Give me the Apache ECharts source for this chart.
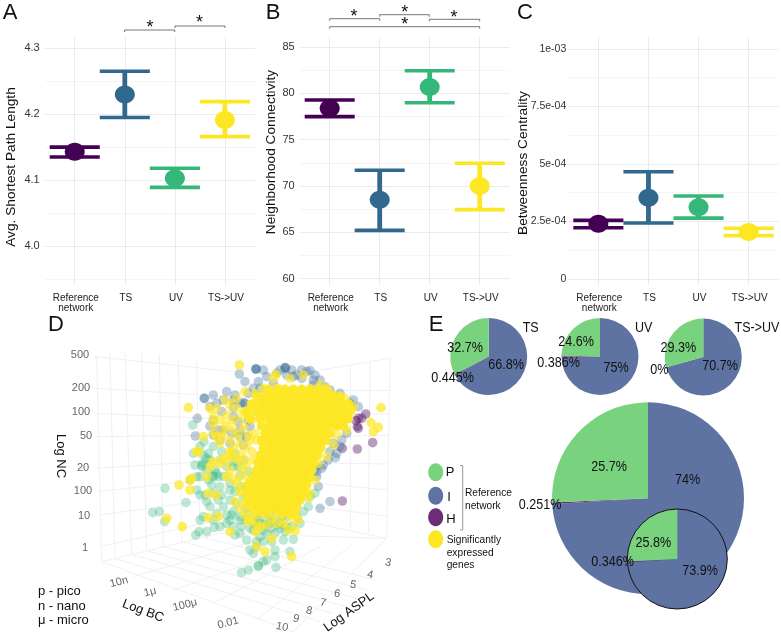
<!DOCTYPE html>
<html>
<head>
<meta charset="utf-8">
<style>html,body{margin:0;padding:0;background:#fff}#chart{width:781px;height:633px}</style>
<script src="https://cdn.jsdelivr.net/npm/echarts@6/dist/echarts.min.js"></script>
</head>
<body>
<div id="chart"></div>
<script>
// Network topology comparison across conditions
const categories = ['Reference\nnetwork', 'TS', 'UV', 'TS->UV'];
const conditionColors = ['#440154', '#31688E', '#35B779', '#FDE725'];

const asplMean = [4.143, 4.230, 4.103, 4.191];
const asplLow  = [4.135, 4.195, 4.089, 4.166];
const asplHigh = [4.150, 4.265, 4.118, 4.219];
const asplTicks = [4.0, 4.1, 4.2, 4.3];
const asplMinor = [3.95, 4.05, 4.15, 4.25];

const ncMean = [78.4, 68.5, 80.7, 70.0];
const ncLow  = [77.5, 65.2, 79.0, 67.45];
const ncHigh = [79.3, 71.7, 82.45, 72.45];
const ncTicks = [60, 65, 70, 75, 80, 85];
const ncMinor = [62.5, 67.5, 72.5, 77.5, 82.5];

const bcMean = [2.40e-4, 3.53e-4, 3.11e-4, 2.04e-4];
const bcLow  = [2.22e-4, 2.43e-4, 2.64e-4, 1.88e-4];
const bcHigh = [2.54e-4, 4.66e-4, 3.60e-4, 2.20e-4];
const bcTicks = [0, 2.5e-4, 5e-4, 7.5e-4, 1e-3];
const bcTickLabels = ['0', '2.5e-04', '5e-04', '7.5e-04', '1e-03'];
const bcMinor = [1.25e-4, 3.75e-4, 6.25e-4, 8.75e-4];

// Panel D: node positions on the projected plane of the 3D view
const wallLines = [
  [[285,110],[700,155]],[[285,205],[720,232]],[[285,280],[730,300]],[[285,350],[730,345]],
  [[288,445],[720,418]],[[295,515],[700,470]],[[300,585],[700,530]],[[300,680],[700,590]],
  [[960,150],[1170,115]],[[1000,210],[1170,210]],[[1040,280],[1170,282]],[[1000,350],[1170,345]],
  [[1000,430],[1165,432]],[[950,490],[1165,510]],[[950,560],[1165,590]],[[900,600],[1160,655]],
  [[290,108],[305,725]],[[330,100],[345,715]],[[375,98],[395,703]],[[425,100],[440,692]],
  [[478,104],[490,680]],[[535,115],[545,665]],[[590,125],[600,650]],[[1170,115],[1160,655]],
  [[1110,125],[1105,640]],[[1050,135],[1050,620]],
  [[305,725],[880,935]],[[345,715],[960,905]],[[395,703],[1000,880]],[[440,692],[1040,860]],
  [[490,680],[1070,835]],[[545,665],[1100,810]],[[600,650],[1130,780]],[[650,640],[1160,655]],
  [[305,725],[660,640]],[[400,770],[760,665]],[[520,810],[860,690]],[[640,850],[960,680]],
  [[770,900],[1060,670]],[[880,935],[1160,655]]
];
const purpleNodes = [[1072,320],[1075,295],[1097,282],[1118,368],[1027,385],[1072,387],[1027,543],[1085,295],[1068,302],[1075,325]];
const blueNodes = [[718,162],[735,185],[768,147],[768,147],[768,147],[790,150],[855,143],[857,143],[875,150],[905,150],[930,152],[945,165],[960,180],
  [775,185],[800,170],[830,160],[860,165],[613,235],[613,235],[640,225],[722,250],[735,250],[730,248],[592,295],[630,318],[655,330],[586,348],
  [650,250],[670,240],[700,240],[745,220],[780,205],[820,190],[880,170],[990,210],[1020,220],[1050,250],[1006,413],[970,435],[950,470],
  [955,500],[990,545],[960,565],[1020,380],[990,395],[1040,340],[720,350],[690,370],[660,360],[640,300],[700,290],[1075,260],[1060,240],
  [940,180],[905,175],[855,145],[920,155],[965,445],[945,445],[950,455],[700,262],[720,330],[670,330],[745,300],[740,350],[1000,370],[985,420],
  [680,215],[705,225],[760,205],[630,260],[665,275],[715,305],[695,340],[730,375],[750,320],[640,345],[1010,400],[1025,360],[940,195],[975,200],
  [840,150],[890,165]];
const greenNodes = [[578,315],[495,505],[458,578],[478,575],[494,605],[558,548],[587,645],[597,635],[620,635],[643,622],[600,600],[590,510],
  [610,430],[607,440],[585,435],[600,470],[640,470],[650,460],[625,400],[640,380],[600,380],[580,400],[612,365],[590,470],[570,480],[640,520],
  [615,525],[660,500],[690,490],[720,500],[700,440],[730,420],[680,440],[660,420],[690,600],[700,620],[720,640],[740,660],[770,680],[750,690],
  [780,650],[800,640],[850,660],[880,658],[825,690],[870,695],[800,720],[825,710],[775,738],[775,738],[745,750],[724,758],[828,742],[790,725],
  [760,700],[820,600],[840,610],[860,620],[800,600],[780,610],[790,570],[830,570],[860,590],[890,590],[910,575],[930,530],[945,520],[900,540],
  [780,540],[740,600],[760,630],[705,645],[680,610],[650,580],[630,560],[610,590],[740,500],[760,470],[620,450],[655,540],[670,560],[690,540],
  [710,550],[800,510],[830,520],[850,540],[880,510],[910,500],[660,620],[640,600],[605,435],[640,468],[655,470],[620,415],[700,425],[715,440],
  [695,585],[720,590],[770,590],[810,610],[835,615],[815,625],[845,590],[705,515],[730,530],[760,545],[775,600],[750,625],[790,630],[635,495],
  [600,525],[720,600],[810,585],[840,625],[790,665],[770,665],[815,665],[610,405],[630,420],[645,450],[625,480],[670,470],[690,510],[720,465],
  [745,455],[665,395],[705,400],[735,565],[700,575],[680,585],[725,620],[745,580],[765,610],[795,615],[825,640],[855,635],[875,620],[900,610],
  [925,560],[665,525],[620,545]];
const yellowSparse = [[718,135],[828,163],[565,263],[1143,263],[1113,308],[1135,322],[1120,335],[537,495],[570,510],[500,595],[547,620],[625,593],
  [655,590],[875,710],[815,655],[886,632],[795,695],[680,470],[745,605],[767,635],[690,635],[770,680],[630,265],[640,310],[680,315],[610,350],
  [690,395],[650,350],[665,350],[575,475],[590,395],[620,470],[570,480],[595,395],[640,425],[660,430],[630,440],[625,520],[650,525],[705,545],
  [735,545],[710,490],[740,520],[775,565],[755,600],[800,615],[830,610],[895,600],[865,630],[795,580],[690,405],[670,415],[715,420],[735,500],
  [760,580],[735,585],[780,620],[850,610],[815,595],[720,515]];
const yellowBelt = [[650,265],[690,255],[710,265],[735,215],[765,220],[790,205],[835,205],[640,290],[660,300],[700,300],[725,290],[700,330],[730,320],
  [745,345],[720,370],[690,360],[660,370],[740,380],[700,410],[725,400],[760,420],[740,440],[690,450],[720,470],[745,470],[640,340],[750,270],[755,300],
  [680,285],[910,165],[870,175],[820,175],[960,195],[1000,225],[1035,235],[1060,260],[1040,330],[1010,345],[1000,375],[980,410],[955,430],[945,480],
  [930,520],[925,535],[675,240],[710,235],[735,275],[670,330],[715,345],[750,360],[700,385],[735,420],[680,425],[755,395],[770,360],[765,340],
  [745,490],[725,445],[695,475],[760,510],[880,600],[820,580],[775,585],[740,560],[720,565],[770,615]];
// Overplotted core, listed row by row as [row, positions along the row]
const coreRows = [
  [208, [805,830,855,880,905,930,955,980]],
  [230, [770,795,820,845,870,895,920,945,970,995,1020]],
  [252, [755,780,805,830,855,880,905,930,955,980,1005,1030,1045]],
  [274, [740,768,793,818,843,868,893,918,943,968,993,1018,1043,1052]],
  [296, [750,780,805,830,855,880,905,930,955,980,1005,1030,1045]],
  [318, [785,810,835,860,885,910,935,960,985,1010,1030]],
  [340, [795,820,845,870,895,920,945,970,990]],
  [362, [785,810,835,860,885,910,935,960,978]],
  [384, [790,815,840,865,890,915,940,962]],
  [406, [780,805,830,855,880,905,930,952]],
  [428, [775,800,825,850,875,900,925,940]],
  [450, [770,795,820,845,870,895,920,935]],
  [472, [760,785,810,835,860,885,910,930]],
  [494, [750,775,800,825,850,875,900,920]],
  [516, [745,770,795,820,845,870,895,915]],
  [538, [745,770,800,825,850,875,900]],
  [560, [755,785,815,845,870,890]],
  [582, [845,870,885]]
];
// Heaviest overplotting, drawn as larger discs
const coreCentres = [[810,250],[870,250],[930,250],[990,250],[840,295],[900,295],[960,295],[1010,290],[830,340],[890,340],[950,335],
  [830,385],[890,385],[925,385],[815,430],[870,430],[905,430],[805,475],[860,475],[890,475],[790,520],[840,520],[880,520],[790,550],[850,550]];

// Panel E: protein class shares per gene set
const classNames = ['I', 'H', 'P'];
const classColors = ['#5F73A2', '#6B2C78', '#78D27E'];
const tsShares = [66.8, 0.445, 32.7];
const uvShares = [75, 0.386, 24.6];
const tsuvShares = [70.7, 0, 29.3];
const refShares = [74, 0.251, 25.7];
const sigShares = [73.9, 0.346, 25.8];

const font = 'Liberation Sans, Arial, sans-serif';
const gridTop = 37, gridHeight = 248;
const panels = [
  {left: 44.7, width: 210.3, min: 3.941, max: 4.317, ticks: asplTicks, minor: asplMinor, mean: asplMean, low: asplLow, high: asplHigh,
   labelSize: 11, labelMargin: 5, fmt: v => v.toFixed(1)},
  {left: 299.7, width: 210, min: 59.3, max: 86.1, ticks: ncTicks, minor: ncMinor, mean: ncMean, low: ncLow, high: ncHigh,
   labelSize: 11, labelMargin: 5, fmt: v => String(v)},
  {left: 568.3, width: 210.4, min: -0.27e-4, max: 1.052e-3, ticks: bcTicks, minor: bcMinor, mean: bcMean, low: bcLow, high: bcHigh,
   labelSize: 10.5, labelMargin: 2, fmt: v => bcTickLabels[bcTicks.findIndex(t => Math.abs(t - v) < 1e-9)]}
];

const grids = [], xAxes = [], yAxes = [], series = [];
panels.forEach((p, i) => {
  grids.push({left: p.left, top: gridTop, width: p.width, height: gridHeight});
  xAxes.push({
    gridIndex: i, type: 'value', min: 0.4, max: 4.6,
    axisLine: {show: false},
    axisTick: {show: false, customValues: [1, 2, 3, 4]},
    axisLabel: {customValues: [1, 2, 3, 4], margin: 7.5, fontFamily: font, fontSize: 10, lineHeight: 10.5, color: '#222',
      padding: [0, 0, 0, 2], formatter: v => categories[v - 1]},
    splitLine: {show: true, lineStyle: {color: '#ebebeb', width: 1}}
  });
  yAxes.push({
    gridIndex: i, type: 'value', min: p.min, max: p.max,
    axisLine: {show: false},
    axisTick: {show: false, customValues: p.ticks},
    axisLabel: {customValues: p.ticks, margin: p.labelMargin, fontFamily: font, fontSize: p.labelSize, color: '#333', formatter: p.fmt},
    splitLine: {show: true, lineStyle: {color: '#ebebeb', width: 1}}
  });
  yAxes.push({
    gridIndex: i, type: 'value', min: p.min, max: p.max,
    axisLine: {show: false},
    axisTick: {show: false, customValues: p.minor},
    axisLabel: {show: false},
    splitLine: {show: true, lineStyle: {color: '#f5f5f5', width: 1}}
  });
  series.push({
    type: 'custom', xAxisIndex: i, yAxisIndex: i * 2, clip: false, silent: true,
    data: p.mean.map((m, k) => [k + 1, m, p.low[k], p.high[k], k]),
    encode: {x: 0, y: [1, 2, 3]},
    renderItem(params, api) {
      const x = api.value(0);
      const c = conditionColors[api.value(4)];
      const mid = api.coord([x, api.value(1)]);
      const lo = api.coord([x, api.value(2)]);
      const hi = api.coord([x, api.value(3)]);
      const half = api.size([0.5, 0])[0];
      const stroke = {stroke: c, fill: null};
      return {type: 'group', children: [
        {type: 'line', shape: {x1: lo[0], y1: lo[1], x2: hi[0], y2: hi[1]}, style: {...stroke, lineWidth: 4.8}},
        {type: 'line', shape: {x1: lo[0] - half, y1: lo[1], x2: lo[0] + half, y2: lo[1]}, style: {...stroke, lineWidth: 3.6}},
        {type: 'line', shape: {x1: hi[0] - half, y1: hi[1], x2: hi[0] + half, y2: hi[1]}, style: {...stroke, lineWidth: 3.6}},
        {type: 'ellipse', shape: {cx: mid[0], cy: mid[1], rx: 10, ry: 9}, style: {fill: c}}
      ]};
    }
  });
});

// Panel D uses hidden axes spanning the projected plane
grids.push({left: 0, top: 320, width: 400, height: 313});
xAxes.push({gridIndex: 3, type: 'value', min: 0, max: 1200, show: false});
yAxes.push({gridIndex: 3, type: 'value', min: 0, max: 939, inverse: true, show: false});
const dAxisIdx = yAxes.length - 1;
series.push({
  type: 'lines', coordinateSystem: 'cartesian2d', xAxisIndex: 3, yAxisIndex: dAxisIdx, silent: true,
  data: wallLines.map(s => ({coords: s})), lineStyle: {color: '#f1f1f5', width: 1, opacity: 1}
});
const nodeLayer = (data, color, opacity, size) => ({
  type: 'scatter', xAxisIndex: 3, yAxisIndex: dAxisIdx, silent: true, data,
  symbol: 'circle', symbolSize: size || 9.6, itemStyle: {color, opacity}
});
const coreNodes = coreRows.flatMap(([row, us]) => us.map(u => [u, row]));
series.push(nodeLayer(purpleNodes, '#440154', 0.38));
series.push(nodeLayer(blueNodes, '#31688E', 0.33));
series.push(nodeLayer(greenNodes, '#35B779', 0.32));
series.push(nodeLayer(yellowBelt, '#FDE725', 0.62));
series.push(nodeLayer(yellowSparse, '#FDE725', 0.72));
series.push(nodeLayer(coreNodes, '#FDE725', 0.97));
series.push(nodeLayer(coreCentres, '#FDE725', 1, 24));

// Panel E pies
const pie = (shares, center, radius) => ({
  type: 'pie', center, radius, startAngle: 90, clockwise: true, silent: true, label: {show: false}, labelLine: {show: false},
  data: shares.map((v, i) => ({name: classNames[i], value: v, itemStyle: {color: classColors[i]}}))
});
series.push(pie(tsShares, [488.7, 356.5], 38.5));
series.push(pie(uvShares, [600, 356.5], 38.5));
series.push(pie(tsuvShares, [703.3, 357], 38.5));
series.push(pie(refShares, [648, 498.3], 96));
series.push(pie(sigShares, [677.3, 559], 50));
series.push({
  type: 'pie', center: [677.3, 559], radius: 50, silent: true, label: {show: false}, labelLine: {show: false},
  data: [{value: 1, itemStyle: {color: 'rgba(0,0,0,0)', borderColor: '#111', borderWidth: 1}}]
});

// Annotation helpers
const txt = (text, x, y, size, opts = {}) => ({
  type: 'text', x, y, rotation: opts.rotation || 0, scaleY: opts.scaleY || 1, z: 50, silent: true,
  style: {text, fontFamily: font, fontSize: size, fill: opts.fill || '#111', align: opts.align || 'center',
    verticalAlign: 'middle', lineHeight: opts.lineHeight}
});
const bracket = (x1, x2, y, color) => ({
  type: 'polyline', z: 40, silent: true,
  shape: {points: [[x1, y + 2], [x1, y], [x2, y], [x2, y + 2]]},
  style: {stroke: color || '#666', lineWidth: 0.9, fill: null}
});
const pct = (shares, i) => shares[i] + '%';
const pctText = (text, x, y) => txt(text, x, y, 12.6, {scaleY: 1.15});
const tick = (text, x, y, rotation) => txt(text, x, y, 11, {fill: '#666', rotation: rotation || 0});
const graphics = [
  txt('A', 10, 13, 22), txt('B', 273, 13, 22), txt('C', 525, 13, 22), txt('D', 56, 325, 22), txt('E', 436, 325, 22),
  txt('Avg. Shortest Path Length', 11, 167, 13.7, {rotation: Math.PI / 2}),
  txt('Neighborhood Connectivity', 271, 152, 13.7, {rotation: Math.PI / 2}),
  txt('Betweenness Centrality', 523, 163, 13.7, {rotation: Math.PI / 2}),
  bracket(124.7, 174.7, 30), bracket(175, 225, 26),
  txt('*', 150, 28, 18), txt('*', 199.5, 23.5, 18),
  bracket(329.7, 379.7, 18.7), bracket(379.7, 429.3, 14.7), bracket(429.3, 479.7, 19.3), bracket(329.7, 479.7, 26.7),
  txt('*', 354, 17, 18), txt('*', 404.7, 13, 18), txt('*', 454, 18, 18), txt('*', 404.7, 25.5, 18),

  tick('500', 80, 355), tick('200', 81, 388), tick('100', 81, 412), tick('50', 86, 436),
  tick('20', 83, 468), tick('100', 83, 491), tick('10', 84, 516), tick('1', 85, 548),
  tick('10n', 119, 582, 0.25), tick('1μ', 150, 592, 0.25), tick('100μ', 185, 605, 0.25), tick('0.01', 228, 623, 0.25),
  tick('3', 388, 563, -0.2), tick('4', 370, 575, -0.2), tick('5', 353, 585, -0.2), tick('6', 337, 594, -0.2),
  tick('7', 323, 603, -0.2), tick('8', 309, 611, -0.2), tick('9', 296, 619, -0.2), tick('10', 282, 627, -0.2),
  txt('Log NC', 61, 456, 13, {rotation: -Math.PI / 2}),
  txt('Log BC', 143, 611, 13, {rotation: -0.36}),
  txt('Log ASPL', 349, 612, 13, {rotation: 0.62}),
  txt('p - pico', 38, 591, 13, {align: 'left'}), txt('n - nano', 38, 606, 13, {align: 'left'}), txt('μ - micro', 38, 620, 13, {align: 'left'}),

  txt('TS', 530.7, 328, 12.5, {scaleY: 1.15}), txt('UV', 643.7, 328, 12.5, {scaleY: 1.15}), txt('TS->UV', 757, 328, 12.5, {scaleY: 1.15}),
  pctText(pct(tsShares, 2), 465, 348.3), pctText(pct(tsShares, 0), 506, 364.7), pctText(pct(tsShares, 1), 452.7, 377.7),
  pctText(pct(uvShares, 2), 576, 341.7), pctText(pct(uvShares, 0), 616, 368.3), pctText(pct(uvShares, 1), 558.7, 363),
  pctText(pct(tsuvShares, 2), 678.3, 347.7), pctText(pct(tsuvShares, 0), 720, 365.7), pctText(pct(tsuvShares, 1), 659.3, 370),
  pctText(pct(refShares, 2), 609, 467.3), pctText(pct(refShares, 0), 687.7, 480), pctText(pct(refShares, 1), 540, 505),
  pctText(pct(sigShares, 2), 653.3, 543.3), pctText(pct(sigShares, 0), 700, 571.3), pctText(pct(sigShares, 1), 612.7, 562),

  {type: 'ellipse', z: 45, silent: true, shape: {cx: 435.7, cy: 472.3, rx: 7.5, ry: 9}, style: {fill: classColors[2]}},
  {type: 'ellipse', z: 45, silent: true, shape: {cx: 435.7, cy: 495.7, rx: 7.5, ry: 9}, style: {fill: classColors[0]}},
  {type: 'ellipse', z: 45, silent: true, shape: {cx: 435.7, cy: 517.3, rx: 7.5, ry: 9}, style: {fill: classColors[1]}},
  {type: 'ellipse', z: 45, silent: true, shape: {cx: 435.7, cy: 539.3, rx: 7.5, ry: 9}, style: {fill: '#FDE725'}},
  txt('P', 450, 472.5, 13), txt('I', 449, 497.5, 13), txt('H', 451, 519.5, 13),
  {type: 'polyline', z: 45, silent: true, shape: {points: [[460, 465.5], [462.7, 465.5], [462.7, 530], [460, 530]]},
   style: {stroke: '#999', lineWidth: 1, fill: null}},
  txt('Reference', 465, 493.5, 10.2, {align: 'left'}), txt('network', 465, 506, 10.2, {align: 'left'}),
  txt('Significantly', 446.7, 540.5, 10.2, {align: 'left'}), txt('expressed', 446.7, 553, 10.2, {align: 'left'}),
  txt('genes', 446.7, 565.5, 10.2, {align: 'left'})
];

const chart = echarts.init(document.getElementById('chart'), null, {renderer: 'canvas'});
chart.setOption({
  animation: false, backgroundColor: '#ffffff',
  grid: grids, xAxis: xAxes, yAxis: yAxes, series, graphic: graphics
});
</script>
</body>
</html>
